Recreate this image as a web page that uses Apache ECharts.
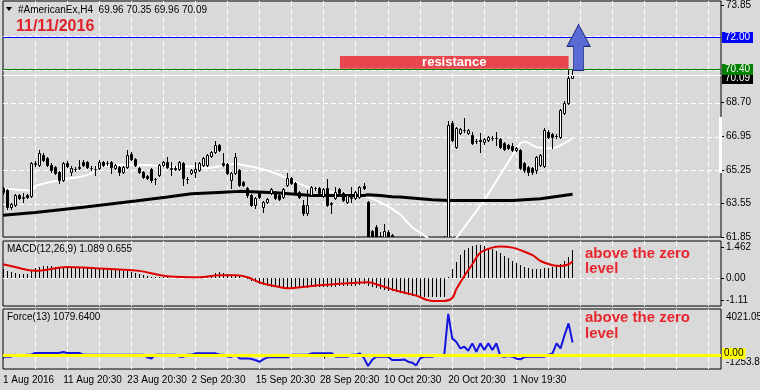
<!DOCTYPE html>
<html><head><meta charset="utf-8">
<script src="https://cdn.jsdelivr.net/npm/echarts@6/dist/echarts.min.js"></script>
<style>html,body{margin:0;padding:0;background:#D9D9D9;overflow:hidden}#c{width:760px;height:390px}</style>
</head><body><div id="c"></div><script>
// ---------------- DATA ----------------
const SLOTS = 180; // bar slots across the chart (incl. empty right shift)
const tickLabels = ['1 Aug 2016','11 Aug 20:30','23 Aug 20:30','2 Sep 20:30','15 Sep 20:30','28 Sep 20:30','10 Oct 20:30','20 Oct 20:30','1 Nov 19:30'];
const TICK_EVERY = 16;
const GRID_EVERY = 8;

const opens = [64.32,64.22,63.36,63.46,63.97,63.83,63.97,63.95,65.55,65.50,
66.01,65.86,65.50,65.40,65.14,64.73,65.60,65.14,65.29,65.35,
65.65,65.65,65.37,65.30,65.35,65.65,65.60,65.65,65.35,65.40,
65.14,65.40,66.06,65.80,65.35,65.14,64.94,65.29,64.80,64.99,
65.50,65.65,65.33,65.35,65.29,65.60,64.80,65.09,65.14,65.24,
65.50,65.50,65.96,66.16,66.52,65.60,65.55,64.73,65.09,65.24,
64.63,64.32,63.97,63.46,64.07,63.36,63.61,64.07,64.07,63.97,
63.87,64.48,64.83,64.58,64.12,63.46,63.05,63.97,64.35,64.32,
63.92,64.32,63.56,63.81,64.27,64.07,63.61,63.85,63.81,63.87,
64.43,63.63,62.15,62.35,61.90,61.80,62.10,61.95,61.50,61.20,
61.00,61.30,60.90,60.60,60.80,60.50,60.70,60.60,60.90,60.70,
61.00,61.40,67.64,66.42,67.13,67.28,67.13,67.03,66.75,66.77,
66.67,66.77,66.90,66.88,66.82,66.62,66.52,66.47,66.26,66.26,
65.60,65.40,65.35,65.24,65.50,65.45,67.18,67.08,66.98,66.93,
68.15,68.66,69.96];
const closes = [64.12,63.36,63.51,63.97,63.81,63.86,63.87,65.60,65.60,66.11,
65.75,65.50,65.24,65.09,64.73,65.60,65.45,65.35,65.32,65.42,
65.50,65.40,65.34,65.33,65.65,65.50,65.62,65.40,65.50,65.14,
65.40,66.01,65.80,65.50,65.14,64.89,64.83,64.73,64.78,65.50,
65.65,65.40,65.35,65.33,65.65,64.83,64.82,65.24,65.29,65.60,
65.86,66.01,66.16,66.52,66.26,65.50,65.09,65.09,65.91,64.48,
64.48,63.97,63.46,63.81,63.87,63.61,63.76,64.27,63.81,63.76,
64.27,64.83,64.58,64.07,63.87,63.05,63.46,64.38,64.33,64.07,
64.27,63.46,63.54,64.12,64.07,63.71,63.97,63.87,64.12,64.38,
64.32,61.60,61.75,61.70,61.92,62.18,61.80,61.50,61.20,61.00,
61.30,60.90,60.60,60.80,60.50,60.70,60.60,60.90,60.70,61.00,
61.40,67.55,66.77,67.39,67.34,67.30,67.28,66.62,66.72,66.75,
66.82,66.93,66.88,66.86,66.42,66.31,66.37,66.26,66.37,65.35,
65.24,65.14,65.14,65.91,66.01,67.28,66.93,66.93,67.00,68.30,
68.66,69.94,70.09];
const highs = [64.40,64.27,63.56,64.02,64.02,64.07,64.02,65.66,65.70,66.26,
66.11,65.91,65.60,65.45,65.19,65.65,65.70,65.45,65.40,65.75,
65.75,65.70,65.45,65.45,65.75,65.70,65.70,65.70,65.55,65.45,
65.45,66.26,66.16,65.85,65.40,65.19,64.99,65.35,64.85,65.55,
65.70,65.91,65.65,65.45,65.70,65.65,64.89,65.30,65.65,65.65,
65.91,66.06,66.21,66.72,66.57,66.11,65.60,65.14,66.11,65.30,
64.68,64.38,64.02,63.87,64.12,63.66,63.81,64.32,64.17,64.02,
64.32,65.09,64.89,64.63,64.17,63.71,64.22,64.43,64.40,64.38,
64.32,64.78,63.61,64.38,64.32,64.12,64.02,64.38,64.17,64.43,
64.58,63.70,62.20,62.45,62.10,62.50,62.20,62.00,61.60,61.40,
61.50,61.40,61.00,60.90,60.90,60.80,60.90,61.00,61.10,61.20,
61.90,67.74,67.74,67.44,67.39,67.90,67.34,67.18,66.82,67.13,
66.88,66.98,66.98,67.18,66.88,66.67,66.57,66.62,66.42,66.31,
65.65,65.45,65.40,65.96,66.06,67.39,67.28,67.13,67.08,68.35,
68.76,70.34,70.35];
const lows = [64.05,63.25,63.28,63.42,63.76,63.61,63.82,63.90,65.45,65.45,
65.70,65.45,65.14,65.04,64.58,64.68,65.40,64.99,65.19,65.29,
65.45,65.35,65.24,64.99,65.30,65.45,65.50,65.10,65.30,64.99,
65.09,65.35,65.75,65.45,65.09,64.84,64.78,64.63,64.55,64.94,
65.45,65.35,64.99,65.24,65.24,64.48,64.58,65.04,64.89,65.19,
65.45,65.45,65.91,66.11,66.21,65.45,65.04,64.32,65.04,64.43,
64.43,63.87,63.41,63.30,63.81,63.10,63.56,64.02,63.76,63.71,
63.82,64.43,64.53,64.02,63.82,62.95,62.95,63.92,64.25,64.02,
63.87,63.41,63.05,63.76,64.02,63.66,63.56,63.61,63.76,63.82,
64.27,61.40,61.50,61.50,61.60,61.60,61.60,61.30,61.00,60.80,
60.90,60.70,60.40,60.40,60.30,60.30,60.40,60.50,60.60,60.60,
60.90,61.30,66.72,66.37,67.08,67.18,67.08,66.57,66.62,66.16,
66.57,66.72,66.77,66.52,66.37,66.26,66.31,66.21,66.21,65.29,
65.14,64.99,65.04,65.09,65.45,65.40,66.88,66.37,66.88,66.88,
68.10,68.60,69.96];

// moving averages: [bar index, price]
const maFast = [[0,64.32],[7,64.22],[8,64.43],[10,64.56],[14,64.73],[16,64.82],[19,64.9],[22,65.07],[24,65.45],
[33,65.53],[37,65.5],[43,65.41],[48,65.45],[51,65.35],[54,65.45],[58,65.58],[60,65.5],[64,65.34],[68,65.08],
[72,64.73],[76,64.39],[80,64.22],[84,64.05],[89,63.96],[91,63.88],[94,63.62],[97,63.28],[99,63.0],[102,62.35],
[106,61.78],[110,60.8],[113,61.79],[120,63.73],[129,66.62],[130,66.7],[133,66.43],[137,66.36],[140,66.62],[142,66.87]];
const maSlow = [[0,62.96],[8,63.1],[20,63.36],[33,63.68],[41,63.88],[47,64.05],[55,64.13],[59,64.17],[68,64.1],
[77,63.96],[90,63.96],[91,64.0],[94,63.96],[97,63.9],[99,63.88],[107,63.75],[111,63.71],[119,63.71],[127,63.71],
[134,63.8],[142,64.02]];

const macdHist = [0.34,0.28,0.24,0.2,0.16,0.15,0.15,0.3,0.38,0.44,
0.46,0.47,0.46,0.45,0.44,0.45,0.45,0.43,0.42,0.41,
0.4,0.39,0.37,0.36,0.35,0.34,0.33,0.32,0.31,0.3,
0.28,0.27,0.25,0.2,0.14,0.1,0.06,0.03,0.02,0.02,
0.03,0.02,0.01,0.01,0.02,0.0,-0.02,-0.02,-0.01,0.0,
0.04,0.08,0.12,0.2,0.22,0.2,0.16,0.12,0.1,0.06,
0.0,-0.05,-0.12,-0.18,-0.22,-0.26,-0.3,-0.34,-0.37,-0.39,
-0.4,-0.39,-0.38,-0.38,-0.38,-0.4,-0.39,-0.37,-0.36,-0.36,
-0.35,-0.36,-0.37,-0.35,-0.33,-0.33,-0.32,-0.31,-0.3,-0.27,
-0.24,-0.3,-0.36,-0.41,-0.45,-0.48,-0.51,-0.53,-0.56,-0.6,
-0.64,-0.68,-0.71,-0.73,-0.74,-0.75,-0.76,-0.77,-0.77,-0.76,
-0.75,0.05,0.36,0.63,0.9,1.09,1.2,1.26,1.29,1.29,
1.26,1.2,1.13,1.06,0.98,0.87,0.77,0.67,0.58,0.5,
0.43,0.38,0.34,0.34,0.34,0.38,0.4,0.45,0.5,0.56,
0.69,0.83,1.089];
const macdSignal = [[0,0.54],[3,0.43],[8,0.28],[10,0.3],[16,0.43],[20,0.41],[28,0.34],[34,0.28],[41,0.07],[49,0.03],
[54,0.11],[58,0.11],[61,0.03],[64,-0.18],[68,-0.33],[71,-0.41],[74,-0.37],[78,-0.3],[87,-0.2],[91,-0.17],
[94,-0.3],[98,-0.5],[103,-0.7],[107,-0.91],[110,-0.91],[112,-0.79],[113,-0.45],[115,0.08],[117,0.54],[119,1.0],
[122,1.2],[124,1.24],[127,1.2],[129,1.1],[132,0.9],[134,0.67],[137,0.5],[139,0.47],[141,0.54],[142,0.655]];

const force = [-170,-170,-170,0,-120,-120,0,0,150,150,
150,150,150,150,150,240,150,150,150,150,
0,0,0,0,0,0,0,0,0,0,
0,0,0,0,0,0,-230,-330,0,0,
0,0,0,0,-175,-175,0,0,120,120,
120,120,120,120,0,0,-175,-175,0,-320,
-320,-320,-380,-480,-615,-380,-230,-230,-230,-230,
-230,-230,0,0,0,0,0,120,120,120,
120,120,120,-175,-175,-175,-175,0,0,120,
-300,-990,-470,-175,-175,-175,-175,-470,-470,-470,
-410,-615,-700,-935,-320,-175,-175,-175,-30,-30,
-30,3600,1440,1150,560,700,350,1000,260,1000,
410,1000,410,1000,-120,-175,-120,-175,-350,-400,
-200,-175,-175,-175,-175,-175,0,120,1000,560,
1730,2760,1079.64];

const PRICE_MIN = 61.85, PRICE_MAX = 73.85;
const priceTickValues = [73.85, 68.70, 66.95, 65.25, 63.55, 61.85];
const priceGridValues = [63.55, 65.25, 66.95, 68.65, 70.35, 72.05];
const levelValues = [70.09, 70.40, 72.00];   // bid, green line, blue line
const resistanceZone = {fromBar: 84, toBar: 141, low: 70.40, high: 71.05};
const arrowAt = {bar: 144, price: 71.49};
const MACD_MIN = -1.11, MACD_MAX = 1.462;
const FORCE_MIN = -1253.8, FORCE_MAX = 4021.058;

// ---------------- CHART ----------------
const FONT = "'Liberation Sans', Arial, sans-serif";
const FONT10 = "10px " + FONT;
const BG = '#D9D9D9';
const dash = () => ({stroke: '#FFFFFF', lineWidth: 1, lineDash: [5, 3]});
const levelStyles = [
  {line: '#FFFFFF', bg: '#000000', fg: '#FFFFFF', dy: 3},
  {line: '#008000', bg: '#008000', fg: '#FFFFFF', dy: 0},
  {line: '#0000FF', bg: '#0000FF', fg: '#FFFFFF', dy: 0}
];
const slots = Array.from({length: SLOTS}, (_, i) => String(i));
const candleData = opens.map((o, i) => [i, o, closes[i], lows[i], highs[i]]);
const histData = macdHist.map((v, i) => [i, v]);
const gridBars = slots.map((s, i) => i).filter(i => i > 0 && i % GRID_EVERY === 0);
const labelAt = (i) => i % TICK_EVERY === 0 && i / TICK_EVERY < tickLabels.length;

function xAxisFor(gridIndex, withLabels) {
  return {
    type: 'category', gridIndex, data: slots, boundaryGap: false,
    axisLine: {show: false}, splitLine: {show: false},
    axisTick: withLabels ? {show: true, interval: labelAt, length: 4, lineStyle: {color: '#000'}} : {show: false},
    axisLabel: withLabels ? {show: true, interval: labelAt,
      formatter: (v, i) => i === 0 ? '{f|' + tickLabels[0] + '}' : (tickLabels[i / TICK_EVERY] || ''),
      rich: {f: {padding: [0, 0, 0, 4], fontSize: 10, fontFamily: FONT, color: '#000'}},
      align: 'left', padding: [0, 0, 0, -4], margin: 6, color: '#000', fontSize: 10, fontFamily: FONT} : {show: false}
  };
}
const yLabel = {color: '#000', fontSize: 10, fontFamily: FONT, margin: 5};

const priceLabelPos = priceTickValues.map(v => v === PRICE_MAX ? v - 0.2 : v);
const macdLabelPos = [MACD_MAX - 0.265, 0, MACD_MIN + 0.237];
const macdLabelText = [MACD_MAX.toFixed(3), '0.00', MACD_MIN.toFixed(2)];
const forceLabelPos = [FORCE_MAX - 700, FORCE_MIN + 615];
const forceLabelText = [FORCE_MAX.toFixed(3), FORCE_MIN.toFixed(2)];

const arrowPath = 'path://M11.5,0 L23,22 L16.5,22 L16.5,46 L6.5,46 L6.5,22 L0,22 Z';

function renderCandle(params, api) {
  const i = api.value(0), o = api.value(1), c = api.value(2), l = api.value(3), h = api.value(4);
  const pO = api.coord([i, o]), pC = api.coord([i, c]), pL = api.coord([i, l]), pH = api.coord([i, h]);
  const k = Math.floor(pO[0]);
  const top = Math.round(Math.min(pO[1], pC[1])) + 0.5;
  const bot = Math.round(Math.max(pO[1], pC[1])) + 0.5;
  return {type: 'group', children: [
    {type: 'line', shape: {x1: k + 0.5, y1: Math.round(pH[1]), x2: k + 0.5, y2: Math.round(pL[1]) + 1},
      style: {stroke: '#000', lineWidth: 1}},
    {type: 'rect', shape: {x: k - 0.5, y: top, width: 2, height: bot - top},
      style: {fill: c >= o ? '#FFFFFF' : '#000000', stroke: '#000', lineWidth: 1}}
  ]};
}
function renderHist(params, api) {
  const i = api.value(0), v = api.value(1);
  const p0 = api.coord([i, 0]), p1 = api.coord([i, v]);
  const x = Math.floor(p0[0]) + 0.5;
  return {type: 'line', shape: {x1: x, y1: Math.round(p0[1]), x2: x, y2: Math.round(p1[1])},
    style: {stroke: '#000', lineWidth: 1}};
}
function renderHGrid(params, api) {
  const cs = params.coordSys;
  const y = Math.round(api.coord([0, api.value(1)])[1]) + 0.5;
  return {type: 'line', shape: {x1: cs.x, y1: y, x2: cs.x + cs.width, y2: y}, style: dash()};
}
function renderVGrid(params, api) {
  const cs = params.coordSys;
  const x = Math.floor(api.coord([api.value(0), api.value(1)])[0]) + 0.5;
  return {type: 'line', shape: {x1: x, y1: cs.y, x2: x, y2: cs.y + cs.height}, style: dash()};
}
function renderLevel(params, api) {
  const cs = params.coordSys;
  const st = levelStyles[params.dataIndex];
  const v = api.value(1);
  const y = Math.round(api.coord([0, v])[1]) + 0.5;
  return {type: 'group', children: [
    {type: 'line', shape: {x1: cs.x, y1: y, x2: cs.x + cs.width, y2: y}, style: {stroke: st.line, lineWidth: 1}},
    {type: 'text', x: cs.x + cs.width + 1, y: y + st.dy,
      style: {text: v.toFixed(2), fill: st.fg, backgroundColor: st.bg, padding: [1, 3, 0, 3], font: FONT10,
        align: 'left', verticalAlign: 'middle'}}
  ]};
}
function renderZeroForce(params, api) {
  const cs = params.coordSys;
  const y = Math.round(api.coord([0, api.value(1)])[1]) + 0.5;
  return {type: 'group', children: [
    {type: 'line', shape: {x1: cs.x, y1: y, x2: cs.x + cs.width, y2: y}, style: {stroke: '#FFFF00', lineWidth: 3}},
    {type: 'text', x: cs.x + cs.width + 1, y: y - 2,
      style: {text: '0.00', fill: '#000', backgroundColor: '#FFFF00', padding: [1, 2, 0, 2], font: FONT10,
        align: 'left', verticalAlign: 'middle'}}
  ]};
}

const gridBase = {left: 3, width: 718, show: true, backgroundColor: BG, borderColor: '#000', borderWidth: 1, containLabel: false, outerBoundsMode: 'none'};
const axisMins = [PRICE_MIN, MACD_MIN, FORCE_MIN];
const vGridSeries = [0, 1, 2].map(g => ({type: 'custom', xAxisIndex: g, yAxisIndex: g, z: 1, silent: true, clip: true,
  data: gridBars.map(i => [i, axisMins[g]]), encode: {x: 0, y: 1}, renderItem: renderVGrid}));

const option = {
  animation: false,
  backgroundColor: BG,
  grid: [
    Object.assign({top: 1, height: 236}, gridBase),
    Object.assign({top: 241, height: 65}, gridBase),
    Object.assign({top: 309, height: 60}, gridBase)
  ],
  xAxis: [xAxisFor(0, false), xAxisFor(1, false), xAxisFor(2, true)],
  yAxis: [
    {type: 'value', gridIndex: 0, position: 'right', min: PRICE_MIN, max: PRICE_MAX,
      splitLine: {show: false}, axisLine: {show: false},
      axisTick: {show: true, customValues: priceLabelPos, length: 3, lineStyle: {color: '#000'}},
      axisLabel: Object.assign({customValues: priceLabelPos,
        formatter: (v) => (v > PRICE_MAX - 0.3 ? PRICE_MAX : v).toFixed(2)}, yLabel)},
    {type: 'value', gridIndex: 1, position: 'right', min: MACD_MIN, max: MACD_MAX,
      splitLine: {show: false}, axisLine: {show: false},
      axisTick: {show: true, customValues: macdLabelPos, length: 3, lineStyle: {color: '#000'}},
      axisLabel: Object.assign({customValues: macdLabelPos,
        formatter: (v) => macdLabelText[macdLabelPos.indexOf(v)] ?? ''}, yLabel)},
    {type: 'value', gridIndex: 2, position: 'right', min: FORCE_MIN, max: FORCE_MAX,
      splitLine: {show: false}, axisLine: {show: false},
      axisTick: {show: false},
      axisLabel: Object.assign({customValues: forceLabelPos,
        formatter: (v) => forceLabelText[forceLabelPos.indexOf(v)] ?? ''}, yLabel)}
  ],
  series: vGridSeries.concat([
    {type: 'custom', xAxisIndex: 0, yAxisIndex: 0, z: 1, silent: true, clip: true,
      data: priceGridValues.map(v => [0, v]), encode: {x: 0, y: 1}, renderItem: renderHGrid},
    {type: 'custom', name: 'candles', xAxisIndex: 0, yAxisIndex: 0, data: candleData, z: 3, clip: true,
      encode: {x: 0, y: [1, 2, 3, 4]}, renderItem: renderCandle},
    {type: 'line', xAxisIndex: 0, yAxisIndex: 0, data: maFast, showSymbol: false, symbol: 'none', z: 2, smooth: 0.2,
      lineStyle: {color: '#FFFFFF', width: 2}},
    {type: 'line', xAxisIndex: 0, yAxisIndex: 0, data: maSlow, showSymbol: false, symbol: 'none', z: 2,
      lineStyle: {color: '#000000', width: 3}},
    {type: 'custom', xAxisIndex: 0, yAxisIndex: 0, z: 5, silent: true, clip: false,
      data: levelValues.map(v => [0, v]), encode: {x: 0, y: 1}, renderItem: renderLevel},
    {type: 'line', xAxisIndex: 0, yAxisIndex: 0, data: [], z: 6, silent: true,
      markArea: {silent: true, z: 10,
        itemStyle: {color: '#E8474F'},
        label: {show: true, position: 'inside', formatter: 'resistance', color: '#FFFFFF', fontSize: 13, fontWeight: 'bold', fontFamily: FONT},
        data: [[{coord: [resistanceZone.fromBar, resistanceZone.high]}, {coord: [resistanceZone.toBar, resistanceZone.low]}]]},
      markPoint: {silent: true, z: 11, label: {show: false},
        data: [{coord: [arrowAt.bar, arrowAt.price], symbol: arrowPath, symbolSize: [23, 46], symbolOffset: [-2, 0],
          itemStyle: {color: '#5B6BD6', borderColor: '#1F2A80', borderWidth: 1}}]}},
    {type: 'custom', xAxisIndex: 1, yAxisIndex: 1, z: 1, silent: true, clip: true,
      data: [[0, 0]], encode: {x: 0, y: 1}, renderItem: renderHGrid},
    {type: 'custom', xAxisIndex: 1, yAxisIndex: 1, data: histData, z: 2, clip: true,
      encode: {x: 0, y: 1}, renderItem: renderHist},
    {type: 'line', xAxisIndex: 1, yAxisIndex: 1, data: macdSignal, showSymbol: false, symbol: 'none', z: 3, smooth: 0.4,
      lineStyle: {color: '#E00000', width: 2}},
    {type: 'line', xAxisIndex: 2, yAxisIndex: 2, data: force, showSymbol: false, symbol: 'none', z: 2,
      lineStyle: {color: '#1515E0', width: 2}},
    {type: 'custom', xAxisIndex: 2, yAxisIndex: 2, z: 4, silent: true, clip: false,
      data: [[0, 0]], encode: {x: 0, y: 1}, renderItem: renderZeroForce}
  ]),
  graphic: [
    {type: 'polygon', z: 100, shape: {points: [[6, 7], [12, 7], [9, 11]]}, style: {fill: '#000'}},
    {type: 'text', z: 100, style: {text: '#AmericanEx,H4  69.96 70.35 69.96 70.09', x: 18, y: 10.5, fill: '#000', font: FONT10, verticalAlign: 'middle'}},
    {type: 'text', z: 100, style: {text: '11/11/2016', x: 16, y: 26.5, fill: '#E0202A', font: "bold 16px " + FONT, verticalAlign: 'middle'}},
    {type: 'text', z: 100, style: {text: 'MACD(12,26,9) 1.089 0.655', x: 7, y: 249.5, fill: '#000', font: FONT10, verticalAlign: 'middle'}},
    {type: 'text', z: 100, style: {text: 'Force(13) 1079.6400', x: 7, y: 317.5, fill: '#000', font: FONT10, verticalAlign: 'middle'}},
    {type: 'text', z: 100, style: {text: 'above the zero', x: 585, y: 253.5, fill: '#E8262E', font: "bold 15px " + FONT, verticalAlign: 'middle'}},
    {type: 'text', z: 100, style: {text: 'level', x: 585, y: 268.5, fill: '#E8262E', font: "bold 15px " + FONT, verticalAlign: 'middle'}},
    {type: 'text', z: 100, style: {text: 'above the zero', x: 585, y: 318, fill: '#E8262E', font: "bold 15px " + FONT, verticalAlign: 'middle'}},
    {type: 'text', z: 100, style: {text: 'level', x: 585, y: 334, fill: '#E8262E', font: "bold 15px " + FONT, verticalAlign: 'middle'}},
    {type: 'rect', z: 100, shape: {x: 719, y: 117, width: 3, height: 56}, style: {fill: '#FFFFFF'}}
  ]
};
const chart = echarts.init(document.getElementById('c'));
chart.setOption(option);
</script></body></html>
